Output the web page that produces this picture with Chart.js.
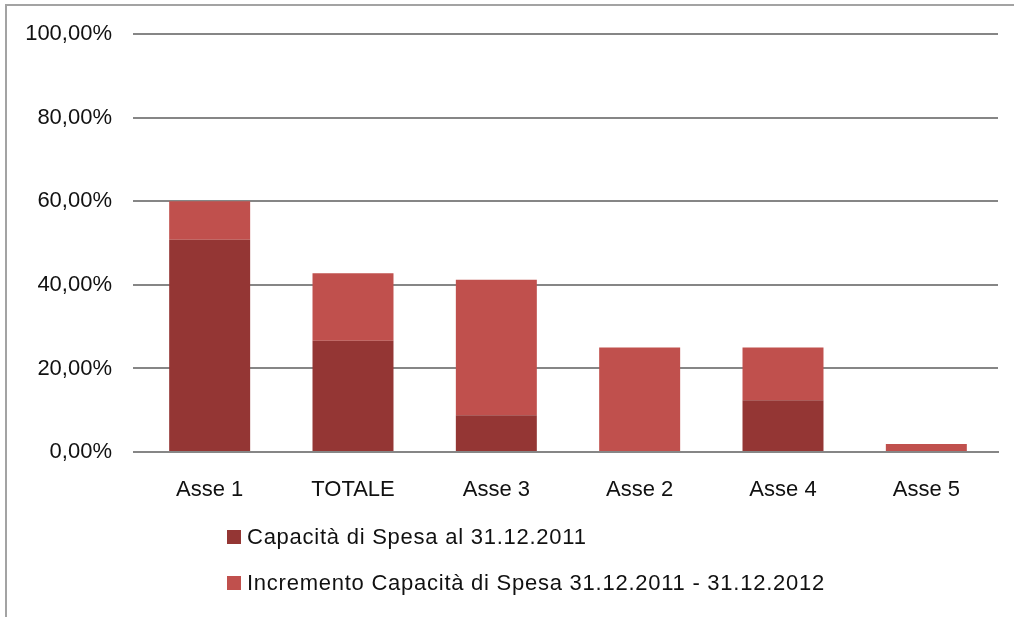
<!DOCTYPE html>
<html>
<head>
<meta charset="utf-8">
<script src="https://cdn.jsdelivr.net/npm/chart.js@4/dist/chart.umd.min.js"></script>
<style>
  html, body { margin: 0; padding: 0; background: #fff; overflow: hidden; }
  #wrap { position: relative; width: 1014px; height: 617px; }
  #frame { position: absolute; left: 5px; top: 4px; width: 1020px; height: 630px; border: 2px solid #a3a3a3; box-sizing: border-box; }
  #myChart { position: absolute; left: 0; top: 0; }
  #legend { position: absolute; left: 227px; top: 522px; font-family: "Liberation Sans", Arial, sans-serif; font-size: 22px; color: #111; letter-spacing: 0.75px; }
  #legend div { height: 46px; line-height: 30px; white-space: nowrap; }
  #legend span.box { display: inline-block; width: 14px; height: 14px; margin-right: 6px; vertical-align: 0px; }
</style>
</head>
<body>
<div id="wrap">
  <div id="frame"></div>
  <canvas id="myChart" width="1014" height="617"></canvas>
  <div id="legend"></div>
</div>
<script>
const categories = ['Asse 1', 'TOTALE', 'Asse 3', 'Asse 2', 'Asse 4', 'Asse 5'];
const capacita2011 = [50.8, 26.6, 8.8, 0, 12.4, 0];
const incremento2012 = [9.2, 16.2, 32.4, 25, 12.6, 1.9];
const seriesNames = ['Capacità di Spesa al 31.12.2011', 'Incremento Capacità di Spesa 31.12.2011 - 31.12.2012'];
const seriesColors = ['#943634', '#c0504d'];
const yTicks = [0, 20, 40, 60, 80, 100];

const font = { family: '"Liberation Sans", Arial, sans-serif', size: 22 };

const ctx = document.getElementById('myChart').getContext('2d');
const myChart = new Chart(ctx, {
    type: 'bar',
    data: {
        labels: categories,
        datasets: [
            { label: seriesNames[0], data: capacita2011, backgroundColor: seriesColors[0] },
            { label: seriesNames[1], data: incremento2012, backgroundColor: seriesColors[1] }
        ]
    },
    options: {
        responsive: false,
        animation: false,
        layout: { padding: { top: 33, right: 16, left: 0, bottom: 0 } },
        datasets: { bar: { barPercentage: 0.565, categoryPercentage: 1 } },
        plugins: { legend: { display: false }, tooltip: { enabled: false } },
        scales: {
            x: {
                stacked: true,
                grid: { display: false },
                border: { color: '#868686', width: 2 },
                ticks: { color: '#111', font: font, padding: 17, maxRotation: 0 },
                afterFit: function(scale) { scale.height = 165; }
            },
            y: {
                stacked: true,
                min: 0,
                max: 100,
                afterBuildTicks: function(scale) { scale.ticks = yTicks.map(v => ({ value: v })); },
                grid: { color: '#868686', lineWidth: 2, drawTicks: true, tickLength: 5, tickColor: '#868686' },
                border: { display: false },
                ticks: {
                    color: '#111', font: font, padding: 21,
                    callback: v => v.toFixed(2).replace('.', ',') + '%'
                },
                afterFit: function(scale) { scale.width = 138; }
            }
        }
    }
});

// legend below the chart, one item per row
const legend = document.getElementById('legend');
seriesNames.forEach((name, i) => {
    const row = document.createElement('div');
    const box = document.createElement('span');
    box.className = 'box';
    box.style.background = seriesColors[i];
    row.appendChild(box);
    row.appendChild(document.createTextNode(name));
    legend.appendChild(row);
});
</script>
</body>
</html>
